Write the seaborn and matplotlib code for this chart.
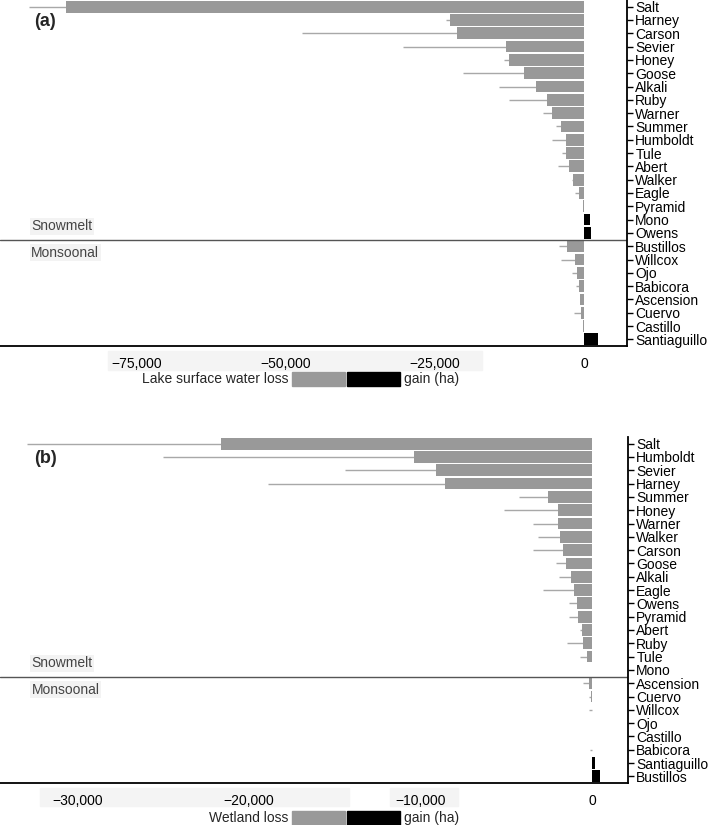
import matplotlib
matplotlib.use("Agg")
import matplotlib.pyplot as plt
import numpy as np
import seaborn as sns
from matplotlib.patches import Rectangle
from matplotlib.ticker import FuncFormatter

# panel (a): lake surface water change (ha)
lakes_a = ["Salt", "Harney", "Carson", "Sevier", "Honey", "Goose", "Alkali", "Ruby", "Warner",
           "Summer", "Humboldt", "Tule", "Abert", "Walker", "Eagle", "Pyramid", "Mono", "Owens",
           "Bustillos", "Willcox", "Ojo", "Babicora", "Ascension", "Cuervo", "Castillo", "Santiaguillo"]
change_a = [-86900, -22500, -21300, -13100, -12600, -10100, -8050, -6200, -5370,
            -3860, -3020, -3100, -2500, -1850, -840, -100, 1000, 1170,
            -2900, -1500, -1230, -840, -730, -600, -100, 2400]
err_a = [6200, 700, 26000, 17300, 800, 10200, 6250, 6400, 1530,
         840, 2350, 600, 1860, 150, 660, 0, 0, 0,
         1300, 2400, 770, 560, 0, 1050, 0, 0]

# panel (b): wetland change (ha)
lakes_b = ["Salt", "Humboldt", "Sevier", "Harney", "Summer", "Honey", "Warner", "Walker", "Carson",
           "Goose", "Alkali", "Eagle", "Owens", "Pyramid", "Abert", "Ruby", "Tule", "Mono",
           "Ascension", "Cuervo", "Willcox", "Ojo", "Castillo", "Babicora", "Santiaguillo", "Bustillos"]
change_b = [-21600, -10400, -9100, -8540, -2570, -2000, -2000, -1870, -1680,
            -1520, -1250, -1050, -880, -820, -610, -530, -300, 0,
            -150, -60, -20, -10, -10, -10, 150, 480]
err_b = [11300, 14600, 5300, 10360, 1700, 3150, 1450, 1290, 1770,
         580, 680, 1810, 450, 510, 60, 950, 380, 0,
         380, 90, 130, 0, 0, 90, 0, 0]

sns.set_style("white")
plt.rcParams["font.family"] = ["Liberation Sans", "DejaVu Sans"]
plt.rcParams["font.size"] = 10

W, H = 709, 825
fig = plt.figure(figsize=(W / 100, H / 100), dpi=100)


def px_rect(x0, y0, x1, y1):
    # figure-pixel box (top-left origin) -> figure fraction
    return [x0 / W, 1 - y1 / H, (x1 - x0) / W, (y1 - y0) / H]


def panel(ax, names, vals, errs, xlim, ticks, tag, legend_txt, leg_y):
    kind = ["gain" if v > 0 else "loss" for v in vals]
    sns.barplot(x=vals, y=names, hue=kind, palette={"loss": "#999999", "gain": "#000000"},
                dodge=False, legend=False, width=0.88, linewidth=0, orient="h", ax=ax)
    pos = np.arange(len(names))
    ax.errorbar(vals, pos, xerr=[errs, np.zeros(len(errs))], fmt="none",
                ecolor="#a8a8a8", elinewidth=1, zorder=0)
    ax.set_xlim(*xlim)
    ax.set_ylim(len(names) - 0.5, -0.5)
    ax.set_xticks(ticks)
    ax.xaxis.set_major_formatter(FuncFormatter(lambda v, p: f"{v:,.0f}".replace("-", "\u2212")))
    ax.yaxis.tick_right()
    ax.tick_params(axis="y", length=4, width=1, pad=2, labelsize=10, colors="black")
    ax.tick_params(axis="x", length=3, width=1, pad=5, labelsize=10, colors="black")
    ax.set_xlabel("")
    ax.set_ylabel("")
    for s in ["left", "top"]:
        ax.spines[s].set_visible(False)
    for s in ["bottom", "right"]:
        ax.spines[s].set_color("black")
        ax.spines[s].set_linewidth(1.3)
    ax.axhline(17.5, color="#555555", lw=1)
    ytr = ax.get_yaxis_transform()
    ax.text(0.05, 16.5, "Snowmelt", transform=ytr, va="center", ha="left", color="#444444",
            bbox=dict(facecolor="#f3f3f3", edgecolor="none", pad=1))
    ax.text(0.05, 18.5, "Monsoonal", transform=ytr, va="center", ha="left", color="#444444",
            bbox=dict(facecolor="#f3f3f3", edgecolor="none", pad=1))
    ax.text(0.055, tag[1], tag[0], transform=ytr, va="center", ha="left",
            fontsize=13, fontweight="bold")
    # legend strip: text, grey box, black box, text
    fig.patches.append(Rectangle((292 / W, 1 - (leg_y + 7) / H), 53 / W, 14 / H,
                                 transform=fig.transFigure, color="#999999"))
    fig.patches.append(Rectangle((347 / W, 1 - (leg_y + 7) / H), 53 / W, 14 / H,
                                 transform=fig.transFigure, color="#000000"))
    fig.text(288 / W, 1 - leg_y / H, legend_txt, ha="right", va="center")
    fig.text(404 / W, 1 - leg_y / H, "gain (ha)", ha="left", va="center")


# faint bands behind the tick labels, as in the source figure
for x0, y0, x1, y1 in [(108, 351, 482, 370), (40, 788, 349, 806), (390, 788, 458, 806)]:
    r = px_rect(x0, y0, x1, y1)
    fig.patches.append(Rectangle((r[0], r[1]), r[2], r[3], transform=fig.transFigure,
                                 color="#f4f4f4", zorder=-1))

ax_a = fig.add_axes(px_rect(0, 0, 627, 346))
ax_b = fig.add_axes(px_rect(0, 437, 628, 783))
ax_a.patch.set_alpha(0)
ax_b.patch.set_alpha(0)

panel(ax_a, lakes_a, change_a, err_a, (-98000, 7200), [-75000, -50000, -25000, 0],
      ("(a)", 1.1), "Lake surface water loss", 379)
panel(ax_b, lakes_b, change_b, err_b, (-34500, 2100), [-30000, -20000, -10000, 0],
      ("(b)", 1.1), "Wetland loss", 818)

fig.savefig("out.png", dpi=100)
